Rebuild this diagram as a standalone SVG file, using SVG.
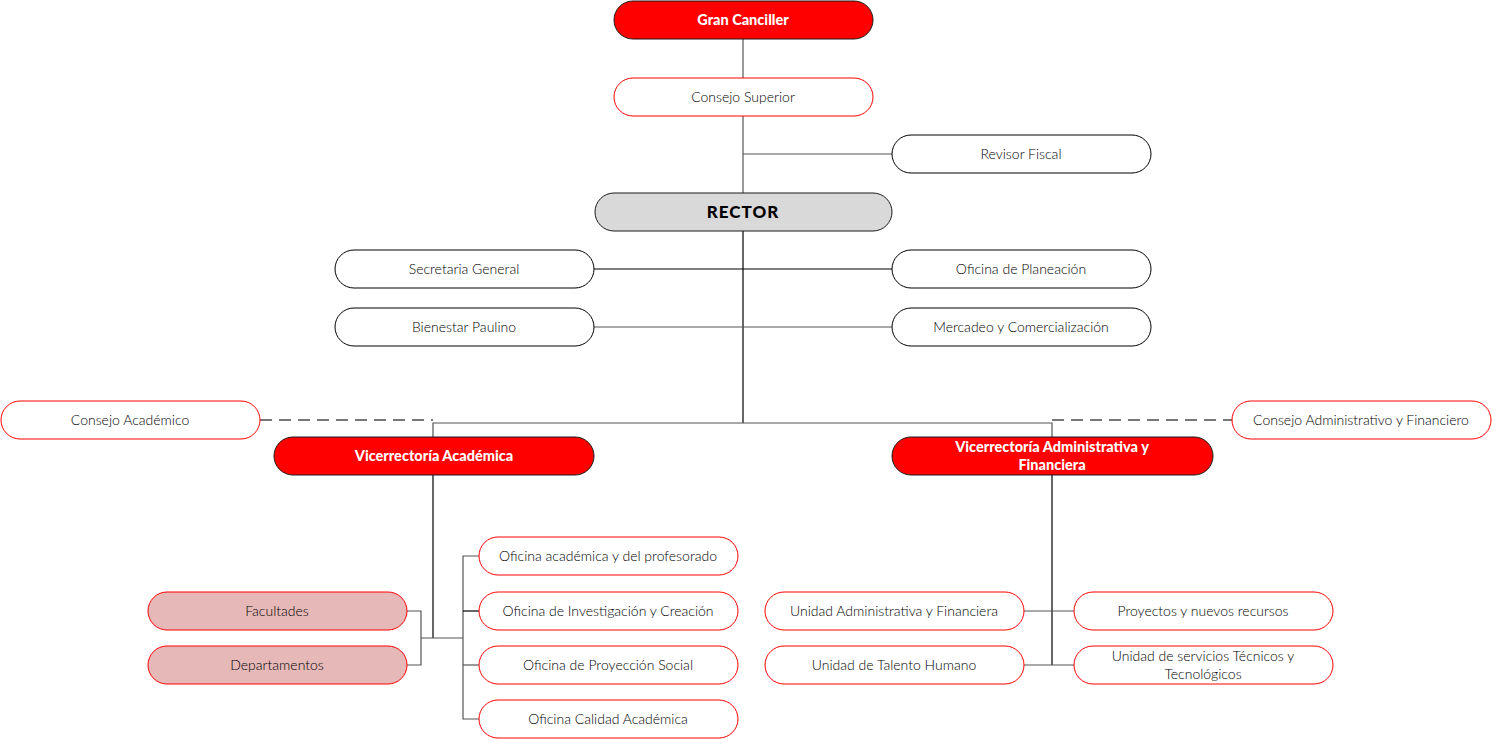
<svg xmlns="http://www.w3.org/2000/svg" width="1493" height="740" viewBox="0 0 1493 740">
<style>
.n{fill:#fff;stroke:#FF0000;stroke-width:1}
.k{fill:#fff;stroke:#000;stroke-width:1}
.r{fill:#FF0000;stroke:#1a1a1a;stroke-width:1}
.g{fill:#D9D9D9;stroke:#1a1a1a;stroke-width:1}
.p{fill:#E6B8B7;stroke:#FF0000;stroke-width:1}
text{font-family:Lato,"Open Sans","Liberation Sans",sans-serif;font-size:14px;font-weight:300;fill:#000;text-anchor:middle;dominant-baseline:central}
.b{font-weight:900;fill:#fff;font-size:14.5px}
.c line,.c polyline{stroke:#000;stroke-width:1.2;fill:none}
.c .gr{stroke:#555}
.c .d{stroke:#777;stroke-width:2;stroke-dasharray:12 7}
</style>
<rect width="1493" height="740" fill="#fff"/>
<g class="c" id="connectors">
<line x1="743" y1="39" x2="743" y2="78" class="gr"/>
<line x1="743" y1="116" x2="743" y2="193" class="gr"/>
<line x1="743" y1="154" x2="892" y2="154" class="gr"/>
<line x1="743" y1="231" x2="743" y2="423"/>
<line x1="594" y1="269" x2="892" y2="269"/>
<line x1="594" y1="327" x2="892" y2="327" class="gr"/>
<polyline points="433,437 433,423 1052,423 1052,437" class="gr"/>
<line x1="260" y1="420" x2="433" y2="420" class="d"/>
<line x1="1052" y1="420" x2="1232" y2="420" class="d"/>
<line x1="433" y1="475" x2="433" y2="638"/>
<polyline points="407,611 421,611 421,665 407,665" class="gr"/>
<line x1="421" y1="638" x2="463" y2="638" class="gr"/>
<polyline points="479,556 463,556 463,719 479,719" class="gr"/>
<line x1="463" y1="611" x2="479" y2="611"/>
<line x1="463" y1="665" x2="479" y2="665" class="gr"/>
<line x1="1052" y1="475" x2="1052" y2="665"/>
<line x1="1024" y1="611" x2="1074" y2="611" class="gr"/>
<line x1="1024" y1="665" x2="1074" y2="665" class="gr"/>
</g>
<g id="gran-canciller"><rect class="r" x="614" y="1" width="259" height="38" rx="19"/><text class="b" x="743" y="19">Gran Canciller</text></g>
<g id="consejo-superior"><rect class="n" x="614" y="78" width="259" height="38" rx="19"/><text x="743" y="96">Consejo Superior</text></g>
<g id="revisor-fiscal"><rect class="k" x="892" y="135" width="259" height="38" rx="19"/><text x="1021" y="153">Revisor Fiscal</text></g>
<g id="rector"><rect class="g" x="595" y="193" width="297" height="38" rx="19"/><text x="743" y="211" style="font-weight:900;font-size:17px;letter-spacing:1px">RECTOR</text></g>
<g id="secretaria"><rect class="k" x="335" y="250" width="259" height="38" rx="19"/><text x="464" y="268">Secretaria General</text></g>
<g id="planeacion"><rect class="k" x="892" y="250" width="259" height="38" rx="19"/><text x="1021" y="268">Oficina de Planeación</text></g>
<g id="bienestar"><rect class="k" x="335" y="308" width="259" height="38" rx="19"/><text x="464" y="326">Bienestar Paulino</text></g>
<g id="mercadeo"><rect class="k" x="892" y="308" width="259" height="38" rx="19"/><text x="1021" y="326">Mercadeo y Comercialización</text></g>
<g id="consejo-academico"><rect class="n" x="1" y="401" width="259" height="38" rx="19"/><text x="130" y="419">Consejo Académico</text></g>
<g id="consejo-admin"><rect class="n" x="1232" y="401" width="259" height="38" rx="19"/><text x="1361" y="419">Consejo Administrativo y Financiero</text></g>
<g id="vic-academica"><rect class="r" x="274" y="437" width="320" height="38" rx="19"/><text class="b" x="434" y="455">Vicerrectoría Académica</text></g>
<g id="vic-admin"><rect class="r" x="892" y="437" width="321" height="38" rx="19"/><text class="b" x="1052" y="446">Vicerrectoría Administrativa y</text><text class="b" x="1052" y="464">Financiera</text></g>
<g id="of-profesorado"><rect class="n" x="479" y="537" width="259" height="38" rx="19"/><text x="608" y="555">Oficina académica y del profesorado</text></g>
<g id="of-investigacion"><rect class="n" x="479" y="592" width="259" height="38" rx="19"/><text x="608" y="610">Oficina de Investigación y Creación</text></g>
<g id="of-proyeccion"><rect class="n" x="479" y="646" width="259" height="38" rx="19"/><text x="608" y="664">Oficina de Proyección Social</text></g>
<g id="of-calidad"><rect class="n" x="479" y="700" width="259" height="38" rx="19"/><text x="608" y="718">Oficina Calidad Académica</text></g>
<g id="facultades"><rect class="p" x="148" y="592" width="259" height="38" rx="19"/><text x="277" y="610">Facultades</text></g>
<g id="departamentos"><rect class="p" x="148" y="646" width="259" height="38" rx="19"/><text x="277" y="664">Departamentos</text></g>
<g id="unidad-admin"><rect class="n" x="765" y="592" width="259" height="38" rx="19"/><text x="894" y="610">Unidad Administrativa y Financiera</text></g>
<g id="talento"><rect class="n" x="765" y="646" width="259" height="38" rx="19"/><text x="894" y="664">Unidad de Talento Humano</text></g>
<g id="proyectos"><rect class="n" x="1074" y="592" width="259" height="38" rx="19"/><text x="1203" y="610">Proyectos y nuevos recursos</text></g>
<g id="servicios"><rect class="n" x="1074" y="646" width="259" height="38" rx="19"/><text x="1203" y="655">Unidad de servicios Técnicos y</text><text x="1203" y="673">Tecnológicos</text></g>
</svg>
